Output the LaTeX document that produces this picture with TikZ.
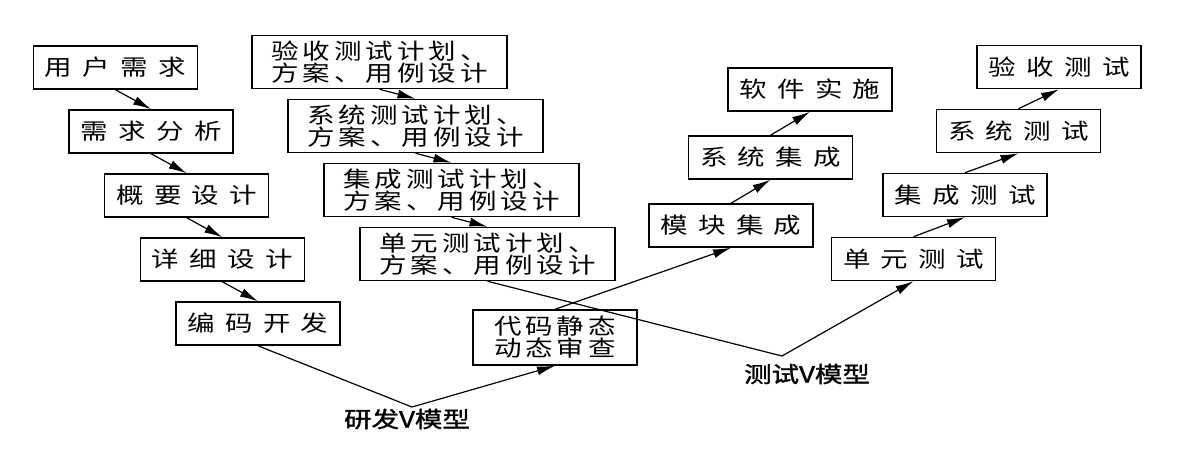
\documentclass[tikz,border=0pt]{standalone}
\usepackage{fontspec}
\newfontfamily\stagefont[FakeStretch=1.25,LetterSpace=47]{Noto Sans CJK SC}
\newfontfamily\planfont[FakeStretch=1.25,LetterSpace=18]{Noto Sans CJK SC}
\newfontfamily\vfont[FakeStretch=1.25,FakeBold=1.5]{Noto Sans CJK SC}
\usepackage{tikz}
\usetikzlibrary{arrows.meta,positioning}

\begin{document}
\begin{tikzpicture}[x=0.5pt, y=-0.5pt, node distance=32pt]
  \tikzstyle{stage} = [rectangle, minimum width=82pt, minimum height=21.5pt, inner sep=2pt, text centered, draw=black, line width=0.75pt, font=\fontsize{11}{11.5}\stagefont]
  \tikzstyle{plan} = [stage, minimum width=127.5pt, minimum height=26.5pt, align=center, font=\fontsize{11}{11}\planfont]
  \tikzstyle{arrow} = [line width=0.6pt, -{Latex[length=9pt,width=4.5pt]}]
  \tikzstyle{vline} = [line width=0.6pt]
  \tikzstyle{vlabel} = [font=\fontsize{11}{12}\vfont]
  \useasboundingbox (0,0) rectangle (1202,472);
  \node (yh) [stage] at (115.5,67.5) {用户需求};
  \node (xq) [stage, below of=yh, xshift=17.8pt] {需求分析};
  \node (gy) [stage, below of=xq, xshift=17.8pt] {概要设计};
  \node (xx) [stage, below of=gy, xshift=17.8pt] {详细设计};
  \node (bm) [stage, below of=xx, xshift=17.8pt] {编码开发};
  \node (ys) [plan] at (379.5,62) {验收测试计划、\\方案、用例设计};
  \node (xt) [plan, below of=ys, xshift=18pt] {系统测试计划、\\方案、用例设计};
  \node (jc) [plan, below of=xt, xshift=18pt] {集成测试计划、\\方案、用例设计};
  \node (dy) [plan, below of=jc, xshift=18pt] {单元测试计划、\\方案、用例设计};
  \node (dm) [plan, minimum width=82pt, minimum height=27.5pt] at (555,337.5) {代码静态\\动态审查};
  \node (mk) [stage] at (731,225.5) {模块集成};
  \node (xj) [stage, node distance=34pt, above of=mk, xshift=19.75pt] {系统集成};
  \node (rj) [stage, node distance=34pt, above of=xj, xshift=19.75pt] {软件实施};
  \node (dt) [stage] at (913.5,259) {单元测试};
  \node (jt) [stage, above of=dt, xshift=25.75pt] {集成测试};
  \node (xc) [stage, above of=jt, xshift=26.75pt] {系统测试};
  \node (yc) [stage, above of=xc, xshift=20.25pt] {验收测试};
  \coordinate (v1) at (412,407);
  \coordinate (v2) at (782,356);
  \node (l1) [vlabel] at (407,419) {研发V模型};
  \node (l2) [vlabel] at (807,374) {测试V模型};
  \draw [arrow] (yh.south) -- (xq.north);
  \draw [arrow] (xq.south) -- (gy.north);
  \draw [arrow] (gy.south) -- (xx.north);
  \draw [arrow] (xx.south) -- (bm.north);
  \draw [arrow] (ys.south) -- (xt.north);
  \draw [arrow] (xt.south) -- (jc.north);
  \draw [arrow] (jc.south) -- (dy.north);
  \draw [vline] (bm.south) -- (v1);
  \draw [arrow] (v1) -- (dm.south);
  \draw [arrow] (dm.north) -- (mk.south);
  \draw [arrow] (mk.north) -- (xj.south);
  \draw [arrow] (xj.north) -- (rj.south);
  \draw [vline] (dy.south) -- (v2);
  \draw [arrow] (v2) -- (dt.south);
  \draw [arrow] (dt.north) -- (jt.south);
  \draw [arrow] (jt.north) -- (xc.south);
  \draw [arrow] (xc.north) -- (yc.south);
\end{tikzpicture}
\end{document}
